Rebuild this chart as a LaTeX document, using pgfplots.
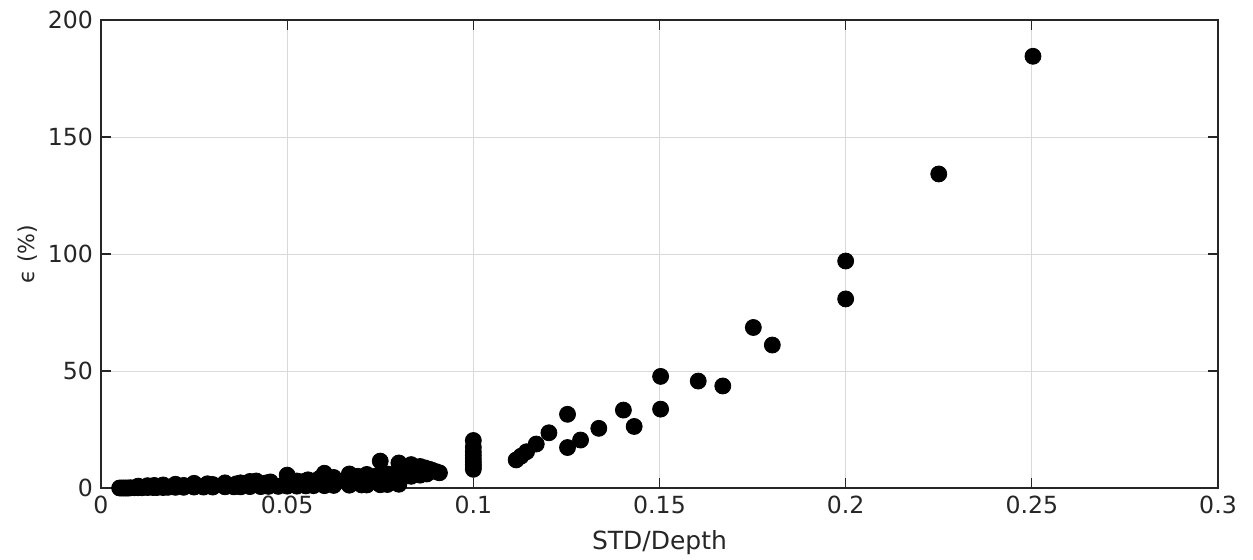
\documentclass[border=0pt]{standalone}
\usepackage{fontspec}
\setmainfont{DejaVu Sans}
\usepackage{pgfplots}
\pgfplotsset{compat=1.18}
\usepackage{pgfplotstable}
\definecolor{axgray}{rgb}{0.15,0.15,0.15}
\pgfplotstableread{
x y
0.005 0
0.0055 0
0.006 0
0.0065 0
0.007 0
0.0075 0
0.008 0.1
0.009 0.1
0.01 0.1
0.011 0.1
0.0125 0.2
0.014 0.2
0.015 0.2
0.0167 0.2
0.018 0.3
0.02 0.3
0.0222 0.3
0.025 0.4
0.0275 0.4
0.03 0.4
0.0333 0.5
0.0357 0.5
0.0375 0.5
0.04 0.6
0.0429 0.6
0.045 0.7
0.0476 0.7
0.05 0.8
0.0526 0.8
0.055 0.9
0.0571 1.0
0.06 1.0
0.0625 1.1
0.0667 1.2
0.07 1.3
0.0714 1.3
0.075 1.4
0.0769 1.5
0.08 1.6
0.01 0.4
0.0125 0.6
0.015 0.7
0.0167 0.8
0.02 1.0
0.0222 1.1
0.025 1.2
0.0286 1.4
0.03 1.5
0.0333 1.6
0.0364 1.8
0.04 2.0
0.0444 2.2
0.05 2.5
0.0545 2.8
0.0571 3.0
0.06 3.2
0.0625 3.4
0.0667 3.6
0.0714 4.0
0.075 4.2
0.08 4.5
0.0833 5.0
0.0857 5.5
0.01 0.8
0.0125 1.0
0.0143 1.1
0.0167 1.3
0.02 1.6
0.025 2.0
0.0286 1.8
0.0333 2.2
0.0375 2.2
0.04 2.8
0.0417 3.0
0.0455 2.6
0.05 5.5
0.0526 3.0
0.0556 3.5
0.0588 4.2
0.06 6.3
0.0625 4.5
0.0667 6.0
0.0690 5.0
0.0714 5.8
0.0741 5.2
0.075 11.5
0.0769 6.0
0.0789 5.8
0.08 10.7
0.0811 7.0
0.0833 10.0
0.0842 7.5
0.0857 9.2
0.0870 8.6
0.0882 8.0
0.0889 7.6
0.0900 7.0
0.0909 6.5
0.0857 6.5
0.0875 6.0
0.1 20.3
0.1 17.5
0.1 15.5
0.1 14.0
0.1 12.5
0.1 11.2
0.1 10.0
0.1 9.0
0.1 8.0
0.1115 12.0
0.1128 13.6
0.1143 15.5
0.1169 18.8
0.1203 23.6
0.1253 31.5
0.1253 17.3
0.1288 20.5
0.1337 25.5
0.1403 33.3
0.1432 26.3
0.1503 47.7
0.1503 33.7
0.1604 45.7
0.1670 43.6
0.1752 68.6
0.1803 61.1
0.2 97.0
0.2 80.8
0.225 134.2
0.2503 184.5
}\datatable
\begin{document}
\begin{tikzpicture}
\path[use as bounding box] (-50.5pt,-35.5pt) rectangle (576pt,244pt);
\begin{axis}[
  at={(0,0)}, anchor=south west,
  scale only axis, width=558.5pt, height=234pt,
  xmin=0, xmax=0.3, ymin=0, ymax=200,
  xtick={0,0.05,0.1,0.15,0.2,0.25,0.3},
  xticklabels={0,0.05,0.1,0.15,0.2,0.25,0.3},
  ytick={0,50,100,150,200},
  yticklabels={0,50,100,150,200},
  tick align=inside, major tick length=5pt,
  xtick pos=both, ytick pos=both,
  grid=major,
  major grid style={line width=0.4pt, draw=black!15},
  axis line style={line width=0.6pt, draw=axgray},
  tick style={line width=0.6pt, draw=axgray},
  ticklabel style={font=\fontsize{11.8}{13}\selectfont, text=axgray},
  xticklabel style={yshift=-0.5pt},
  yticklabel style={xshift=-0.5pt},
  xlabel={STD/Depth},
  ylabel={ϵ (\%)},
  xlabel style={font=\fontsize{12.5}{14}\selectfont, text=axgray, at={(axis description cs:0.5,-0.1175)}, anchor=center},
  ylabel style={font=\fontsize{11}{13}\selectfont, text=axgray, at={(axis description cs:-0.066,0.5)}, anchor=center},
  clip=false,
]
\addplot[only marks, mark=*, mark size=4pt, black, mark options={fill=black, draw=black}] table[x=x,y=y] {\datatable};
\end{axis}
\end{tikzpicture}
\end{document}
